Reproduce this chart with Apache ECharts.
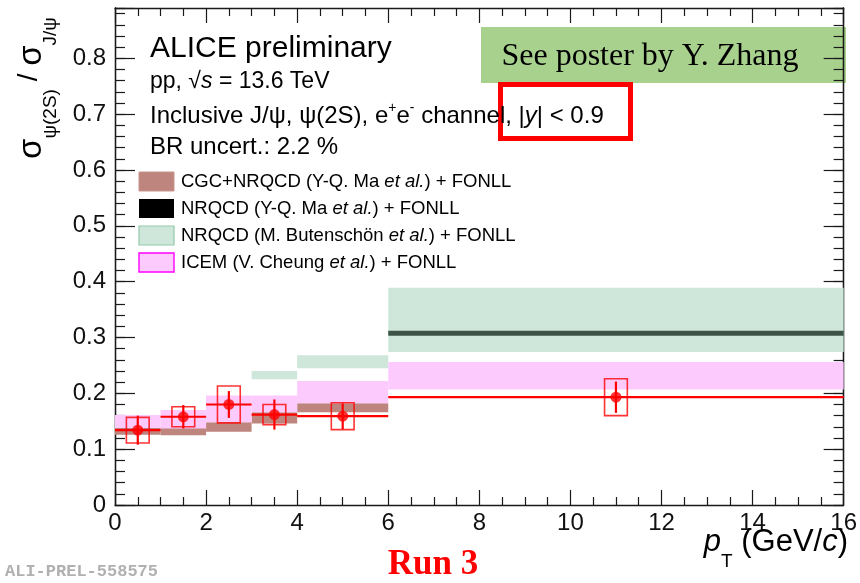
<!DOCTYPE html>
<html>
<head>
<meta charset="utf-8">
<script src="https://cdn.jsdelivr.net/npm/echarts@6/dist/echarts.min.js"></script>
<style>
  html, body { margin: 0; padding: 0; background: #ffffff; }
  #chart { width: 860px; height: 583px; }
</style>
</head>
<body>
<div id="chart"></div>
<script>
// ---- measured psi(2S) / J/psi ratio in pT bins (GeV/c) ----
const binLow    = [0, 1, 2, 3, 4, 6];
const binHigh   = [1, 2, 3, 4, 6, 16];
const ptCenter  = [0.5, 1.5, 2.5, 3.5, 5, 11];
const ratio     = [0.134, 0.158, 0.180, 0.162, 0.159, 0.193];
const statErr   = [0.026, 0.021, 0.024, 0.027, 0.023, 0.028];
const systErr   = [0.023, 0.018, 0.033, 0.018, 0.024, 0.033];
const systHalfWidth = 0.25;

// ---- model bands ----
// CGC+NRQCD (Y-Q. Ma et al.) + FONLL
const cgcBinLow  = [0, 1, 2, 3, 4];
const cgcBinHigh = [1, 2, 3, 4, 6];
const cgcLow     = [0.126, 0.125, 0.131, 0.146, 0.166];
const cgcHigh    = [0.140, 0.138, 0.148, 0.166, 0.182];
// NRQCD (Y-Q. Ma et al.) + FONLL
const maBinLow  = [6];
const maBinHigh = [16];
const maLow     = [0.303];
const maHigh    = [0.312];
// NRQCD (M. Butenschön et al.) + FONLL
const butBinLow  = [3, 4, 6];
const butBinHigh = [4, 6, 16];
const butLow     = [0.225, 0.245, 0.274];
const butHigh    = [0.240, 0.268, 0.389];
// ICEM (V. Cheung et al.) + FONLL
const icemBinLow  = [0, 1, 2, 3, 4, 6];
const icemBinHigh = [1, 2, 3, 4, 6, 16];
const icemLow     = [0.138, 0.137, 0.148, 0.166, 0.182, 0.207];
const icemHigh    = [0.161, 0.170, 0.196, 0.196, 0.222, 0.256];

// ---- axes ----
const xMin = 0, xMax = 16, xStep = 2;
const yMin = 0, yMax = 0.89, yStep = 0.1, yMinorStep = 0.02;

const FONT = 'Liberation Sans';
const INK = '#1a1a1a';

function bandRows(lo, hi, yl, yh) {
  return lo.map((x, i) => [x, hi[i], yl[i], yh[i]]);
}

function bandRenderer(fill) {
  return function (params, api) {
    const a = api.coord([api.value(0), api.value(3)]);
    const b = api.coord([api.value(1), api.value(2)]);
    return {
      type: 'rect',
      shape: { x: a[0], y: a[1], width: b[0] - a[0], height: b[1] - a[1] },
      style: { fill: fill }
    };
  };
}

function bandSeries(name, rows, fill, z) {
  return {
    name: name,
    type: 'custom',
    renderItem: bandRenderer(fill),
    data: rows,
    encode: { x: [0, 1], y: [2, 3] },
    z: z,
    silent: true
  };
}

const pointRows = ratio.map((v, i) => [ptCenter[i], v, binLow[i], binHigh[i], statErr[i], systErr[i]]);

const chart = echarts.init(document.getElementById('chart'), null, { renderer: 'canvas' });

const tickLine = { color: INK, width: 1.2 };

function yAxisDef(position, interval, tickLen, withLabels) {
  return {
    type: 'value',
    position: position,
    min: yMin,
    max: yMax,
    interval: interval,
    axisLine: { show: true, onZero: false, lineStyle: { color: INK, width: 1.3 } },
    axisTick: { show: true, inside: true, length: tickLen, lineStyle: tickLine },
    axisLabel: withLabels ? {
      show: true,
      margin: 9,
      fontFamily: FONT,
      fontSize: 24,
      color: '#111',
      formatter: function (v) {
        const k = Math.round(v / yStep);
        if (Math.abs(v - k * yStep) > 1e-6) return '';
        return k === 0 ? '0' : (k * yStep).toFixed(1);
      }
    } : { show: false },
    splitLine: { show: false }
  };
}

function xAxisDef(position, withLabels) {
  return {
    type: 'value',
    position: position,
    min: xMin,
    max: xMax,
    interval: xStep,
    axisLine: { show: true, onZero: false, lineStyle: { color: INK, width: 1.3 } },
    axisTick: { show: true, inside: true, length: 15, lineStyle: tickLine },
    minorTick: { show: true, splitNumber: 4, length: 8, lineStyle: tickLine },
    axisLabel: withLabels ? {
      show: true, margin: 6, fontFamily: FONT, fontSize: 24, color: '#111'
    } : { show: false },
    splitLine: { show: false }
  };
}

const richIt = (size) => ({
  n: { fontFamily: FONT, fontSize: size, fill: '#000' },
  i: { fontFamily: FONT, fontSize: size, fontStyle: 'italic', fill: '#000' }
});

const option = {
  animation: false,
  backgroundColor: '#ffffff',
  grid: { left: 115, right: 14, top: 8, bottom: 78, containLabel: false },
  xAxis: [xAxisDef('bottom', true), xAxisDef('top', false)],
  yAxis: [
    yAxisDef('left', yStep, 20, true),
    yAxisDef('left', yMinorStep, 10, false),
    yAxisDef('right', yStep, 20, false),
    yAxisDef('right', yMinorStep, 10, false)
  ],
  series: [
    bandSeries('NRQCD (M. Butenschön et al.) + FONLL', bandRows(butBinLow, butBinHigh, butLow, butHigh), '#cfe6da', 2),
    bandSeries('NRQCD (Y-Q. Ma et al.) + FONLL', bandRows(maBinLow, maBinHigh, maLow, maHigh), '#3c5446', 3),
    bandSeries('CGC+NRQCD (Y-Q. Ma et al.) + FONLL', bandRows(cgcBinLow, cgcBinHigh, cgcLow, cgcHigh), '#bd857d', 3),
    bandSeries('ICEM (V. Cheung et al.) + FONLL', bandRows(icemBinLow, icemBinHigh, icemLow, icemHigh), '#fdcafd', 4),
    {
      // systematic uncertainty boxes
      name: 'syst',
      type: 'custom',
      silent: true,
      z: 6,
      data: pointRows,
      encode: { x: 0, y: 1 },
      renderItem: function (params, api) {
        const x = api.value(0), y = api.value(1), s = api.value(5);
        const a = api.coord([x - systHalfWidth, y + s]);
        const b = api.coord([x + systHalfWidth, y - s]);
        return {
          type: 'rect',
          shape: { x: a[0], y: a[1], width: b[0] - a[0], height: b[1] - a[1] },
          style: { fill: 'none', stroke: 'rgba(255,0,0,0.8)', lineWidth: 1.6 }
        };
      }
    },
    {
      // bin width and statistical error bars
      name: 'stat',
      type: 'custom',
      silent: true,
      z: 7,
      data: pointRows,
      encode: { x: 0, y: 1 },
      renderItem: function (params, api) {
        const x = api.value(0), y = api.value(1);
        const l = api.coord([api.value(2), y]);
        const r = api.coord([api.value(3), y]);
        const t = api.coord([x, y + api.value(4)]);
        const b = api.coord([x, y - api.value(4)]);
        const st = { stroke: '#ff0000', lineWidth: 2.2 };
        return {
          type: 'group',
          children: [
            { type: 'line', shape: { x1: l[0], y1: l[1], x2: r[0], y2: r[1] }, style: st },
            { type: 'line', shape: { x1: t[0], y1: t[1], x2: b[0], y2: b[1] }, style: st }
          ]
        };
      }
    },
    {
      name: 'ALICE',
      type: 'scatter',
      data: ratio.map((v, i) => [ptCenter[i], v]),
      symbol: 'circle',
      symbolSize: 11,
      itemStyle: { color: '#ff0000' },
      z: 8,
      silent: true
    }
  ],
  graphic: [
    // poster note
    { type: 'rect', z: -1, shape: { x: 481, y: 27, width: 365, height: 56 }, style: { fill: '#a9d18e' } },
    { type: 'text', z: 10, x: 650, y: 57,
      style: { text: 'See poster by Y. Zhang', font: '32px "Liberation Serif"', fill: '#000', align: 'center', verticalAlign: 'middle' } },
    { type: 'rect', z: 10, shape: { x: 500.5, y: 84.5, width: 130, height: 54 },
      style: { fill: 'none', stroke: '#ff0000', lineWidth: 5 } },

    // y-axis title
    { type: 'text', z: 10, x: 38, y: 88, rotation: Math.PI / 2,
      style: {
        text: '{s|σ}{b|ψ(2S)}{m| / }{s|σ}{b|J/ψ}',
        align: 'center', verticalAlign: 'middle',
        rich: {
          s: { fontFamily: FONT, fontSize: 33, fill: '#000', lineHeight: 32, verticalAlign: 'top' },
          m: { fontFamily: FONT, fontSize: 28, fill: '#000', lineHeight: 32, verticalAlign: 'top' },
          b: { fontFamily: FONT, fontSize: 19, fill: '#000', lineHeight: 45, verticalAlign: 'bottom' }
        }
      } },
    // x-axis title
    { type: 'text', z: 10, x: 848, y: 549,
      style: {
        text: '{i|p}{b|T}{n| (GeV/}{i|c}{n|)}',
        align: 'right', verticalAlign: 'middle',
        rich: {
          i: { fontFamily: FONT, fontStyle: 'italic', fontSize: 31, fill: '#000', lineHeight: 32, verticalAlign: 'top' },
          n: { fontFamily: FONT, fontSize: 31, fill: '#000', lineHeight: 32, verticalAlign: 'top' },
          b: { fontFamily: FONT, fontSize: 19, fill: '#000', lineHeight: 44, verticalAlign: 'bottom' }
        }
      } },

    // headline and conditions
    { type: 'text', z: 10, x: 150, y: 49,
      style: { text: 'ALICE preliminary', font: '30px "Liberation Sans"', fill: '#000', verticalAlign: 'middle' } },
    { type: 'text', z: 10, x: 150, y: 82,
      style: { text: '{n|pp, √}{i|s}{n| = 13.6 TeV}', verticalAlign: 'middle', rich: richIt(23) } },
    { type: 'text', z: 10, x: 150, y: 115,
      style: {
        text: '{n|Inclusive J/ψ, ψ(2S), e}{u|+}{n|e}{u|-}{n| channel, |}{i|y}{n|| < 0.9}', verticalAlign: 'middle',
        rich: {
          n: { fontFamily: FONT, fontSize: 24, fill: '#000', lineHeight: 27, verticalAlign: 'bottom' },
          i: { fontFamily: FONT, fontSize: 24, fontStyle: 'italic', fill: '#000', lineHeight: 27, verticalAlign: 'bottom' },
          u: { fontFamily: FONT, fontSize: 14, fill: '#000', lineHeight: 14, verticalAlign: 'top' }
        }
      } },
    { type: 'text', z: 10, x: 150, y: 147,
      style: { text: 'BR uncert.: 2.2 %', font: '24px "Liberation Sans"', fill: '#000', verticalAlign: 'middle' } },

    // legend
    { type: 'rect', z: 10, shape: { x: 139, y: 172, width: 35, height: 19 }, style: { fill: '#bd857d', stroke: '#c9958d', lineWidth: 1 } },
    { type: 'rect', z: 10, shape: { x: 139, y: 199, width: 35, height: 19 }, style: { fill: '#000000' } },
    { type: 'rect', z: 10, shape: { x: 139, y: 226, width: 35, height: 19 }, style: { fill: '#cfe6da', stroke: '#93c9aa', lineWidth: 1.2 } },
    { type: 'rect', z: 10, shape: { x: 139, y: 253, width: 35, height: 19 }, style: { fill: '#fdcafd', stroke: '#ff00ff', lineWidth: 1.4 } },
    { type: 'text', z: 10, x: 181, y: 182,
      style: { text: '{n|CGC+NRQCD (Y-Q. Ma }{i|et al.}{n|) + FONLL}', verticalAlign: 'middle', rich: richIt(18.5) } },
    { type: 'text', z: 10, x: 181, y: 209,
      style: { text: '{n|NRQCD (Y-Q. Ma }{i|et al.}{n|) + FONLL}', verticalAlign: 'middle', rich: richIt(18.5) } },
    { type: 'text', z: 10, x: 181, y: 236,
      style: { text: '{n|NRQCD (M. Butenschön }{i|et al.}{n|) + FONLL}', verticalAlign: 'middle', rich: richIt(18.5) } },
    { type: 'text', z: 10, x: 181, y: 263,
      style: { text: '{n|ICEM (V. Cheung }{i|et al.}{n|) + FONLL}', verticalAlign: 'middle', rich: richIt(18.5) } },

    // footer
    { type: 'text', z: 10, x: 433, y: 565,
      style: { text: 'Run 3', font: 'bold 35px "Liberation Serif"', fill: '#ff0000', align: 'center', verticalAlign: 'middle' } },
    { type: 'text', z: 10, x: 5, y: 572,
      style: { text: 'ALI-PREL-558575', font: 'bold 17px "Liberation Mono"', fill: '#b0b0b0', verticalAlign: 'middle' } }
  ]
};

chart.setOption(option);
</script>
</body>
</html>
